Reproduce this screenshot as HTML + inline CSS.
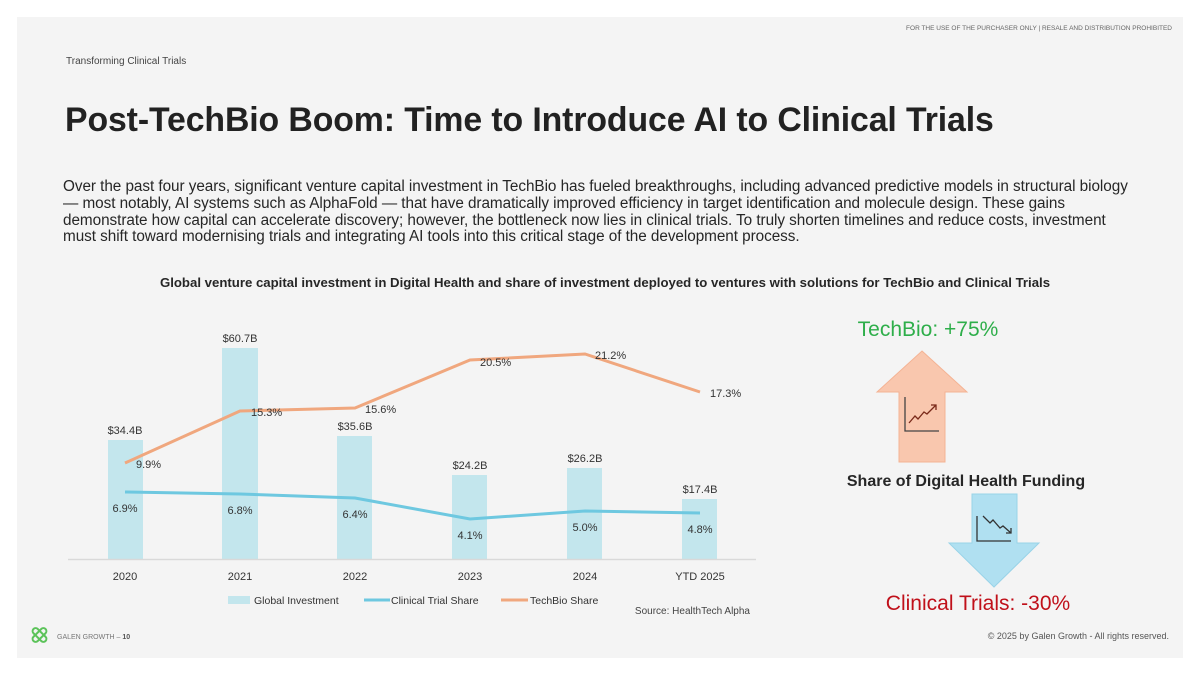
<!DOCTYPE html>
<html><head><meta charset="utf-8"><style>
body{margin:0;width:1200px;height:675px;background:#fff;position:relative;overflow:hidden;font-family:"Liberation Sans",sans-serif;color:#262626}
#bg{position:absolute;left:17px;top:17px;width:1166px;height:641px;background:#f4f4f4}
.a{position:absolute;white-space:nowrap}
</style></head><body>
<div id="bg"></div>
<div class="a" style="right:28px;top:25px;font-size:6.5px;color:#666">FOR THE USE OF THE PURCHASER ONLY | RESALE AND DISTRIBUTION PROHIBITED</div>
<div class="a" style="left:66px;top:56px;font-size:10px;color:#444">Transforming Clinical Trials</div>
<div class="a" style="left:65px;top:101px;font-size:33.8px;font-weight:bold;color:#222;letter-spacing:-0.1px">Post-TechBio Boom: Time to Introduce AI to Clinical Trials</div>
<div class="a" style="left:63px;top:179px;width:1076px;white-space:normal;font-size:15.3px;line-height:16.8px;color:#262626;letter-spacing:-0.05px">Over the past four years, significant venture capital investment in TechBio has fueled breakthroughs, including advanced predictive models in structural biology — most notably, AI systems such as AlphaFold — that have dramatically improved efficiency in target identification and molecule design. These gains demonstrate how capital can accelerate discovery; however, the bottleneck now lies in clinical trials. To truly shorten timelines and reduce costs, investment must shift toward modernising trials and integrating AI tools into this critical stage of the development process.</div>
<div class="a" style="left:0;width:1210px;text-align:center;top:275px;font-size:13.2px;font-weight:bold;color:#262626">Global venture capital investment in Digital Health and share of investment deployed to ventures with solutions for TechBio and Clinical Trials</div>
<svg width="1200" height="675" style="position:absolute;left:0;top:0" font-family="Liberation Sans, sans-serif">
<g fill="#c3e6ed">
<rect x="108" y="440" width="35" height="119"/>
<rect x="222" y="348" width="36" height="211"/>
<rect x="337" y="436" width="35" height="123"/>
<rect x="452" y="475" width="35" height="84"/>
<rect x="567" y="468" width="35" height="91"/>
<rect x="682" y="499" width="35" height="60"/>
</g>
<line x1="68" y1="559.5" x2="756" y2="559.5" stroke="#d9d9d9" stroke-width="1.5"/>
<polyline points="125,463 240,411 355,408 470,360 585,354 700,392" fill="none" stroke="#f0a77e" stroke-width="3"/>
<polyline points="125,492 240,494 355,498 470,519 585,511 700,513" fill="none" stroke="#6ec8e0" stroke-width="3"/>
<g font-size="11" fill="#333" text-anchor="middle">
<text x="125" y="434">$34.4B</text><text x="240" y="342">$60.7B</text><text x="355" y="430">$35.6B</text>
<text x="470" y="469">$24.2B</text><text x="585" y="462">$26.2B</text><text x="700" y="493">$17.4B</text>
<text x="125" y="512">6.9%</text><text x="240" y="514">6.8%</text><text x="355" y="518">6.4%</text>
<text x="470" y="539">4.1%</text><text x="585" y="531">5.0%</text><text x="700" y="533">4.8%</text>
<text x="125" y="580">2020</text><text x="240" y="580">2021</text><text x="355" y="580">2022</text>
<text x="470" y="580">2023</text><text x="585" y="580">2024</text><text x="700" y="580">YTD 2025</text>
</g>
<g font-size="11" fill="#333">
<text x="136" y="468">9.9%</text><text x="251" y="416">15.3%</text><text x="365" y="413">15.6%</text>
<text x="480" y="366">20.5%</text><text x="595" y="359">21.2%</text><text x="710" y="397">17.3%</text>
</g>
<rect x="228" y="596" width="22" height="8" fill="#c3e6ed"/>
<text x="254" y="604" font-size="10.5" fill="#333">Global Investment</text>
<line x1="364" y1="600" x2="390" y2="600" stroke="#6ec8e0" stroke-width="3"/>
<text x="391" y="604" font-size="10.5" fill="#333">Clinical Trial Share</text>
<line x1="501" y1="600" x2="528" y2="600" stroke="#f0a77e" stroke-width="3"/>
<text x="530" y="604" font-size="10.5" fill="#333">TechBio Share</text>
<text x="750" y="614" font-size="10" fill="#444" text-anchor="end">Source: HealthTech Alpha</text>
<text x="928" y="336" font-size="21" fill="#2eae4a" text-anchor="middle">TechBio: +75%</text>
<polygon points="922,351 967,392 945,392 945,462 899,462 899,392 877,392" fill="#f9c7ae" stroke="#f4b394" stroke-width="1"/>
<polyline points="905,397 905,431 939,431" fill="none" stroke="#444" stroke-width="1.3"/>
<polyline points="909,423 915,416 918,419 924,412 927,414 936,405" fill="none" stroke="#7a2a1a" stroke-width="1.3"/>
<polyline points="931,405 936,405 936,410" fill="none" stroke="#7a2a1a" stroke-width="1.3"/>
<text x="966" y="486" font-size="16" font-weight="bold" fill="#262626" text-anchor="middle">Share of Digital Health Funding</text>
<polygon points="972,494 1017,494 1017,543 1039,543 994,587 949,543 972,543" fill="#b0e0f1" stroke="#99d3e8" stroke-width="1"/>
<polyline points="977,516 977,541 1011,541" fill="none" stroke="#333" stroke-width="1.3"/>
<polyline points="983,516 990,523 993,520 1000,528 1003,526 1011,533" fill="none" stroke="#333" stroke-width="1.3"/>
<polyline points="1006,533 1011,533 1011,528" fill="none" stroke="#333" stroke-width="1.3"/>
<text x="978" y="610" font-size="21" fill="#c0101a" text-anchor="middle">Clinical Trials: -30%</text>
<g fill="none" stroke="#5cc35a" stroke-width="2">
<rect x="31" y="632" width="17" height="6" rx="3" transform="rotate(45 39.5 635)"/>
<rect x="31" y="632" width="17" height="6" rx="3" transform="rotate(-45 39.5 635)"/>
</g>
<text x="57" y="639" font-size="7" fill="#777">GALEN GROWTH – <tspan font-weight="bold" fill="#555">10</tspan></text>
<text x="1169" y="639" font-size="9" fill="#555" text-anchor="end">© 2025 by Galen Growth  - All rights reserved.</text>
</svg>
</body></html>
